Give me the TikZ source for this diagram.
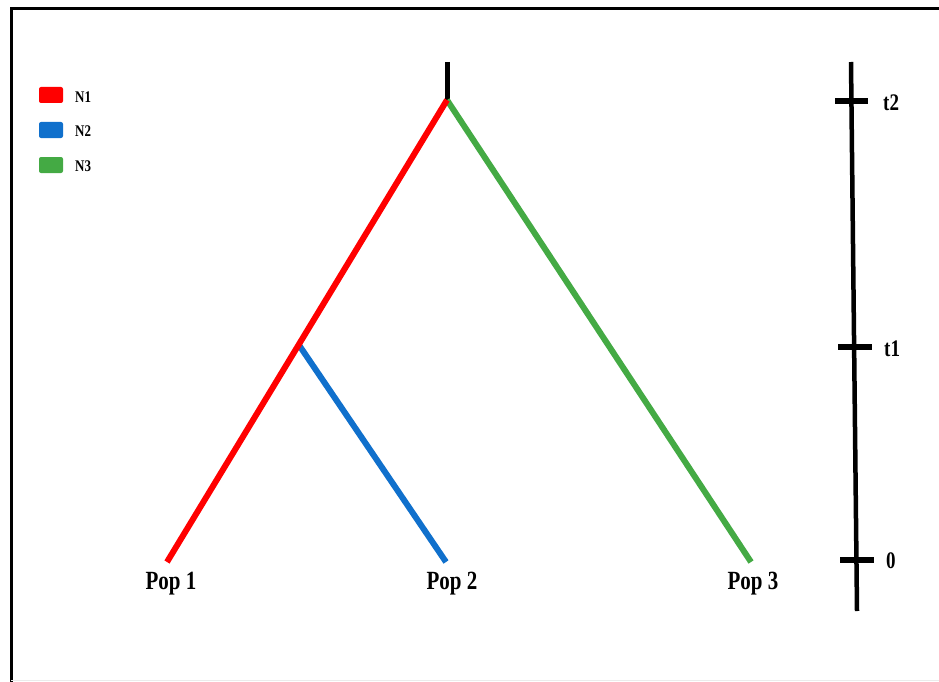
\documentclass[tikz,border=0pt]{standalone}
\usepackage{fontspec}
\usepackage{graphicx}
\setmainfont{Liberation Serif}
\definecolor{nred}{HTML}{FF0000}
\definecolor{nblue}{HTML}{1070CC}
\definecolor{ngreen}{HTML}{44AA44}
\newcommand{\tallt}[1]{\scalebox{1}[1.25]{#1}}
\begin{document}
\begin{tikzpicture}[x=1pt,y=-1pt,
  branch/.style={line width=6pt},
  lab/.style={font=\bfseries\fontsize{21}{23}\selectfont, inner sep=0pt},
  leg/.style={font=\bfseries\fontsize{13}{15}\selectfont, inner sep=0pt, anchor=west},
  swatch/.style={rounded corners=2pt, minimum width=24pt, minimum height=16pt, inner sep=0pt},
  tick/.style={line width=5.5pt},
  tlab/.style={font=\bfseries\fontsize{19}{21}\selectfont, inner sep=0pt, anchor=west}]
\useasboundingbox (0,0) rectangle (939,682);
% frame
\draw[line width=3pt] (11,682) -- (11,9) -- (939,9);
\draw[line width=0.6pt, black!8] (11,680) -- (939,680);
% tree
\coordinate (top) at (447,62);
\coordinate (root) at (447,100);
\coordinate (mid) at (299,345);
\coordinate (p1) at (167,562);
\coordinate (p2) at (446,562);
\coordinate (p3) at (751,562);
\draw[line width=5pt] (top) -- (root);
\draw[branch, nblue] (mid) -- (p2);
\draw[branch, ngreen] (root) -- (p3);
\draw[branch, nred] (root) -- (p1);
\node[lab] (l1) at (171,584) {\tallt{Pop 1}};
\node[lab] (l2) at (452,584) {\tallt{Pop 2}};
\node[lab] (l3) at (753,584) {\tallt{Pop 3}};
% legend
\node[swatch, fill=nred] (s1) at (51,95) {};
\node[swatch, fill=nblue] (s2) at (51,130) {};
\node[swatch, fill=ngreen] (s3) at (51,165) {};
\node[leg] (n1) at (75,97) {\tallt{N1}};
\node[leg] (n2) at (75,131) {\tallt{N2}};
\node[leg] (n3) at (75,166) {\tallt{N3}};
% time axis
\coordinate (ax0) at (851,62);
\coordinate (ax1) at (857,611);
\draw[line width=4.5pt] (ax0) -- (ax1);
\coordinate (a2) at (835,101); \coordinate (b2) at (868,101);
\coordinate (a1) at (838,347); \coordinate (b1) at (872,347);
\coordinate (a0) at (840,560); \coordinate (b0) at (874,560);
\draw[tick] (a2) -- (b2);
\draw[tick] (a1) -- (b1);
\draw[tick] (a0) -- (b0);
\node[tlab] (t2) at (883,103) {\tallt{t2}};
\node[tlab] (t1) at (884,349) {\tallt{t1}};
\node[tlab] (t0) at (886,561) {\tallt{0}};
\end{tikzpicture}
\end{document}
